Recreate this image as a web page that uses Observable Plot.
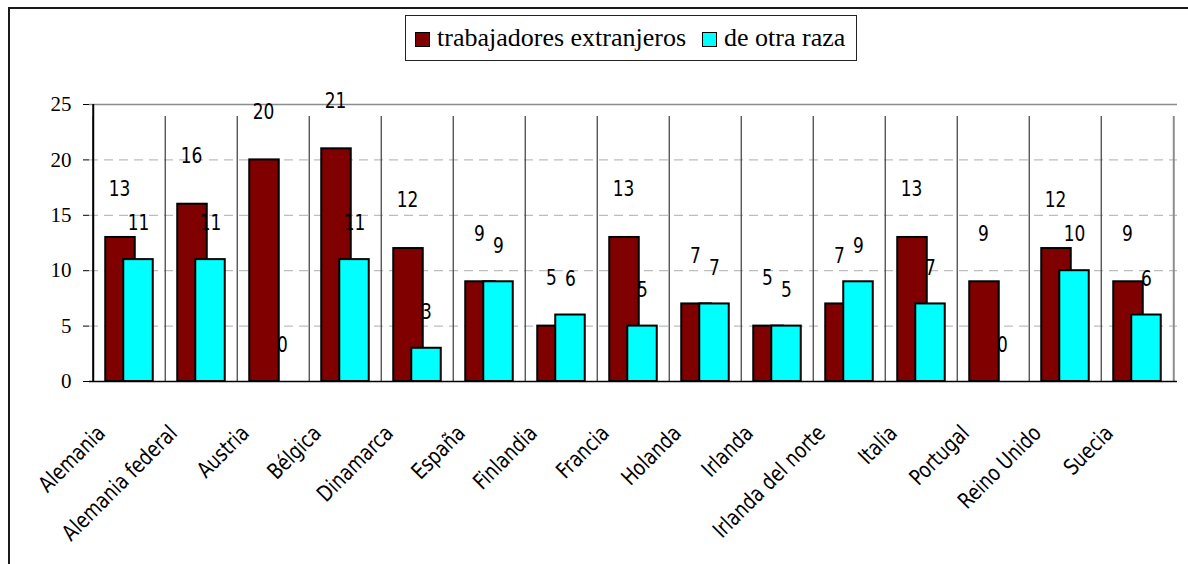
<!DOCTYPE html>
<html>
<head>
<meta charset="utf-8">
<script src="https://cdn.jsdelivr.net/npm/d3@7"></script>
<script src="https://cdn.jsdelivr.net/npm/@observablehq/plot@0.6"></script>
<style>
  html, body { margin: 0; padding: 0; background: #fff; overflow: hidden; width: 1188px; height: 564px; }
  #wrap { position: relative; width: 1188px; height: 564px; overflow: hidden; }
  #outer { position: absolute; left: 8px; top: 7px; width: 1220px; height: 640px; border: 2px solid #1a1a1a; box-sizing: border-box; pointer-events: none; }
  #legend { position: absolute; left: 405px; top: 15px; width: 452px; height: 46px; box-sizing: border-box;
    border: 1px solid #222; background: #fff; display: flex; align-items: center; padding-left: 9px;
    font-size: 26px; color: #000; white-space: nowrap; }
  .sw { display: inline-block; width: 15px; height: 15px; border: 1.5px solid #000; box-sizing: border-box; margin-right: 7px; position: relative; top: 1px; }
  .item2 { margin-left: 16px; }
  #chart { position: absolute; left: 0; top: 0; }
</style>
</head>
<body>
<div id="wrap">
  <div id="chart"></div>
  <div id="outer"></div>
  <div id="legend"></div>
</div>
<script>
// ---- data ----
const categories = ["Alemania", "Alemania federal", "Austria", "Bélgica", "Dinamarca", "España", "Finlandia", "Francia", "Holanda", "Irlanda", "Irlanda del norte", "Italia", "Portugal", "Reino Unido", "Suecia"];
const trabajadoresExtranjeros = [13, 16, 20, 21, 12, 9, 5, 13, 7, 5, 7, 13, 9, 12, 9];
const deOtraRaza = [11, 11, 0, 11, 3, 9, 6, 5, 7, 5, 9, 7, 0, 10, 6];
const yTicks = [0, 5, 10, 15, 20, 25];
const gridValues = [5, 10, 15, 20];
const seriesNames = ["trabajadores extranjeros", "de otra raza"];
const seriesColors = ["#800000", "#00ffff"];

// ---- font detection ----
const cvs = document.createElement("canvas").getContext("2d");
function hasFont(name) {
  const s = "abcdefghijklmnopqrstuvwxyz ABCDEFGHIJ 0123456789 ñé";
  for (const base of ["monospace", "sans-serif", "serif"]) {
    cvs.font = `40px ${base}`;
    const w0 = cvs.measureText(s).width;
    cvs.font = `40px "${name}", ${base}`;
    const w1 = cvs.measureText(s).width;
    if (Math.abs(w1 - w0) > 0.5) return true;
  }
  return false;
}
function pick(cands, fallback) {
  for (const c of cands) if (hasFont(c)) return c;
  return fallback;
}
const serifFont = pick(["Liberation Serif", "Times New Roman", "Tinos", "Noto Serif", "DejaVu Serif", "FreeSerif"], null);
const narrowFont = pick(["Liberation Sans Narrow", "Arial Narrow", "DejaVu Sans Condensed", "Roboto Condensed", "Open Sans Condensed"], null);
const serifCss = serifFont ? `"${serifFont}", serif` : "serif";
const narrowCss = narrowFont ? `"${narrowFont}", sans-serif` : `"Liberation Sans", Arial, sans-serif`;
const needSqueeze = !narrowFont || narrowFont === "DejaVu Sans Condensed" ? (narrowFont ? 0.9 : 0.82) : 1;
const tickFontSize = serifFont ? 21 : 19.5;

// ---- layout ----
const W = 1188, H = 564, ML = 89, MR = 11, MT = 104, MB = 183;
const bw = (W - ML - MR) / categories.length;

const redData = categories.map((c, i) => ({pais: c, valor: trabajadoresExtranjeros[i]}));
const cyanData = categories.map((c, i) => ({pais: c, valor: deOtraRaza[i]}));
const last = categories[categories.length - 1];

const chart = Plot.plot({
  width: W,
  height: H,
  marginLeft: ML,
  marginRight: MR,
  marginTop: MT,
  marginBottom: MB,
  style: {fontFamily: serifCss, fontSize: tickFontSize + "px", color: "#000", background: "transparent", overflow: "visible"},
  x: {domain: categories, padding: 0, axis: null},
  y: {domain: [0, 25], ticks: yTicks, tickSize: 6, tickPadding: 12, label: null},
  marks: [
    Plot.ruleY(gridValues, {stroke: "#bdbdbd", strokeWidth: 1.2, strokeDasharray: "9,6"}),
    Plot.ruleX(categories, {x: d => d, y1: 0, y2: 25, dx: -bw / 2, insetBottom: -12, stroke: "#3a3a3a", strokeWidth: 1.2}),
    Plot.ruleY([25], {stroke: "#8c8c8c", strokeWidth: 1.6}),
    Plot.ruleX([last], {x: d => d, y1: 0, y2: 25, dx: bw / 2, insetBottom: -12, stroke: "#8c8c8c", strokeWidth: 2}),
    Plot.barY(redData.filter(d => d.valor > 0), {x: "pais", y: "valor", fill: seriesColors[0], stroke: "#000", strokeWidth: 2, insetLeft: 12.25, insetRight: 30.25}),
    Plot.barY(cyanData.filter(d => d.valor > 0), {x: "pais", y: "valor", fill: seriesColors[1], stroke: "#000", strokeWidth: 2, insetLeft: 30.25, insetRight: 12.25}),
    Plot.ruleY([0], {stroke: "#000", strokeWidth: 1.6}),
    Plot.ruleX([categories[0]], {x: d => d, y1: 0, y2: 25, dx: -bw / 2, stroke: "#000", strokeWidth: 2}),
    Plot.text(redData, {x: "pais", y: "valor", text: d => String(d.valor), dx: -10, dy: -48, fontSize: 21, fontFamily: narrowCss, fill: "#000", className: "narrow"}),
    Plot.text(cyanData, {x: "pais", y: "valor", text: d => String(d.valor), dx: 9, dy: -36, fontSize: 21, fontFamily: narrowCss, fill: "#000", className: "narrow"}),
    Plot.text(categories, {x: d => d, frameAnchor: "bottom", text: d => d, dx: -23, dy: 53, rotate: -45, textAnchor: "end", lineAnchor: "bottom", fontSize: 22, fontFamily: narrowCss, fill: "#000", className: "narrow"})
  ]
});
document.getElementById("chart").appendChild(chart);

// condense the sans text when no narrow face is installed
if (needSqueeze < 1) {
  chart.querySelectorAll("g.narrow text").forEach(t => {
    const len = t.getComputedTextLength();
    if (len > 0) {
      t.setAttribute("textLength", (len * needSqueeze).toFixed(2));
      t.setAttribute("lengthAdjust", "spacingAndGlyphs");
    }
  });
}

// ---- legend ----
const legend = document.getElementById("legend");
legend.style.fontFamily = serifCss;
seriesNames.forEach((name, i) => {
  const item = document.createElement("span");
  if (i > 0) item.className = "item2";
  const sw = document.createElement("span");
  sw.className = "sw";
  sw.style.background = seriesColors[i];
  item.appendChild(sw);
  item.appendChild(document.createTextNode(name));
  legend.appendChild(item);
});
</script>
</body>
</html>
